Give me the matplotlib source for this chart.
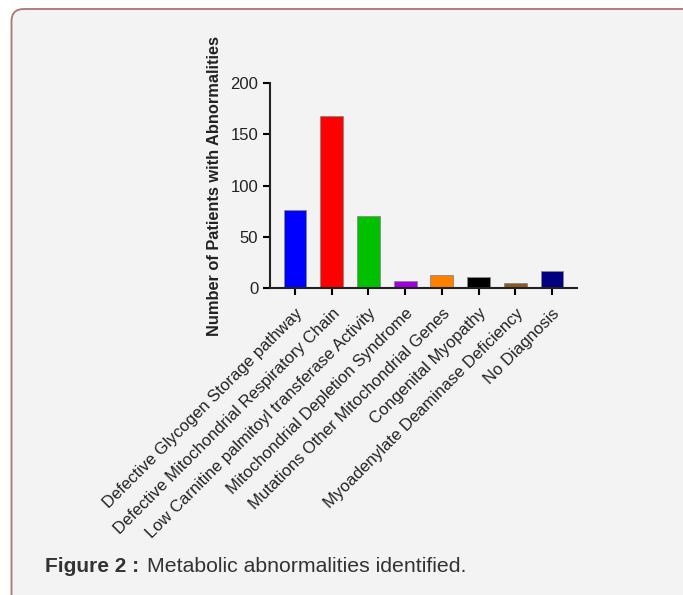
import matplotlib.pyplot as plt
from matplotlib.patches import FancyBboxPatch

plt.rcParams['font.family'] = ['Liberation Sans', 'DejaVu Sans']

# Data
categories = [
    "Defective Glycogen Storage pathway",
    "Defective Mitochondrial Respiratory Chain",
    "Low Carnitine palmitoyl transferase Activity",
    "Mitochondrial Depletion Syndrome",
    "Mutations Other Mitochondrial Genes",
    "Congenital Myopathy",
    "Myoadenylate Deaminase Deficiency",
    "No Diagnosis",
]
patients = [76, 168, 70, 7, 12, 10, 5, 16]
bar_colors = ["#0000ff", "#ff0000", "#00c000", "#a000e0",
              "#ff8000", "#000000", "#8b5a1e", "#000080"]
yticks = [0, 50, 100, 150, 200]

W, H = 683, 595
fig = plt.figure(figsize=(W / 100, H / 100), dpi=100)
fig.patch.set_facecolor("white")

# rounded panel behind the figure
panel = FancyBboxPatch((11.5 / W, -20 / H), 700 / W, (H - 9 + 20) / H,
                       boxstyle="round,pad=0,rounding_size=0.018",
                       transform=fig.transFigure, facecolor="#f3f3f3",
                       edgecolor="#a8766e", linewidth=1.3, zorder=-1,
                       mutation_aspect=W / H)
fig.patches.append(panel)

ax = fig.add_axes([270 / W, 1 - 287.7 / H, (577 - 270) / W, (287.7 - 83.3) / H])
ax.set_facecolor("#f3f3f3")
x = list(range(len(categories)))
ax.bar(x, patients, width=0.62, color=bar_colors, edgecolor="#888888",
       linewidth=0.6, zorder=2)

ax.set_xlim(-0.68, len(categories) - 1 + 0.68)
ax.set_ylim(0, 200)
ax.set_yticks(yticks)
ax.set_xticks(x)
ax.set_xticklabels(categories, rotation=45, ha="right", va="top",
                   rotation_mode="anchor", fontsize=12, color="#222222")
ax.tick_params(axis="y", labelsize=12, labelcolor="#222222",
               length=5, width=1.5, direction="out")
ax.tick_params(axis="x", length=5, width=1.5, direction="out", pad=8)
for s in ["top", "right"]:
    ax.spines[s].set_visible(False)
for s in ["left", "bottom"]:
    ax.spines[s].set_linewidth(1.5)
    ax.spines[s].set_color("#222222")

ax.set_ylabel("Number of Patients with Abnormalities", fontsize=11.8,
              fontweight="bold", color="#222222")
ax.yaxis.set_label_coords(-0.155, 0.5)

fig.text(45 / W, 1 - 566 / H, "Figure 2 :", fontsize=15, fontweight="bold",
         color="#333333", va="center", ha="left")
fig.text(147 / W, 1 - 566 / H, "Metabolic abnormalities identified.",
         fontsize=15.3, color="#333333", va="center", ha="left")

fig.savefig("out.png", dpi=100, facecolor=fig.get_facecolor())
